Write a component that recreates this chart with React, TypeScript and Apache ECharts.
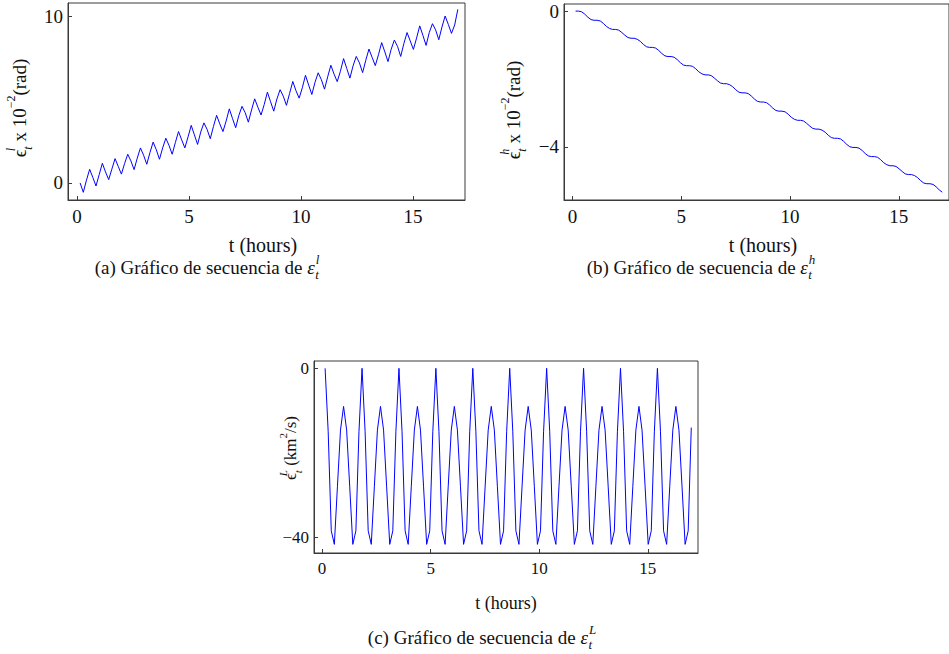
import React, { useEffect, useRef } from 'react';
import * as echarts from 'echarts';

// sampling: 120 samples, one every 17/120 h
const SAMPLE_COUNT = 120;
const SAMPLE_STEP_HOURS = 17 / 120;
const timeHours: number[] = Array.from({ length: SAMPLE_COUNT }, (_, k) => (k + 1) * SAMPLE_STEP_HOURS);

// (a) epsilon^l x 1e-2 (rad)
const seriesA: number[] = [
  0.0, -0.56, 0.17, 0.82, 0.33, -0.18, 0.50, 1.18, 0.66, 0.20, 0.83, 1.46,
  0.99, 0.53, 1.16, 1.72, 1.32, 0.80, 1.49, 2.10, 1.66, 1.12, 1.82, 2.45,
  1.99, 1.42, 2.10, 2.68, 2.25, 1.72, 2.42, 3.08, 2.58, 2.10, 2.76, 3.45,
  2.88, 2.31, 3.05, 3.60, 3.21, 2.65, 3.38, 4.05, 3.54, 3.08, 3.71, 4.44,
  3.87, 3.31, 4.04, 4.59, 4.21, 3.64, 4.37, 5.04, 4.54, 4.07, 4.70, 5.44,
  4.87, 4.30, 5.03, 5.59, 5.20, 4.65, 5.37, 6.08, 5.53, 5.08, 5.70, 6.45,
  5.86, 5.30, 6.03, 6.60, 6.19, 5.62, 6.36, 7.05, 6.52, 6.07, 6.69, 7.45,
  6.86, 6.28, 7.02, 7.58, 7.19, 6.61, 7.35, 8.02, 7.52, 7.03, 7.68, 8.41,
  7.85, 7.27, 8.01, 8.56, 8.18, 7.58, 8.35, 9.01, 8.51, 8.00, 8.68, 9.41,
  8.84, 8.24, 9.01, 9.54, 9.17, 8.58, 9.34, 10.00, 9.50, 8.96, 9.46, 10.40,
];

// (b) epsilon^h x 1e-2 (rad)
const seriesB: number[] = [
  0.00, 0.00, -0.02, -0.09, -0.18, -0.25,
  -0.27, -0.27, -0.29, -0.36, -0.45, -0.51,
  -0.54, -0.54, -0.56, -0.63, -0.71, -0.78,
  -0.80, -0.80, -0.83, -0.89, -0.98, -1.05,
  -1.07, -1.07, -1.09, -1.16, -1.25, -1.32,
  -1.34, -1.34, -1.36, -1.43, -1.52, -1.59,
  -1.61, -1.61, -1.63, -1.70, -1.79, -1.85,
  -1.88, -1.88, -1.90, -1.97, -2.05, -2.12,
  -2.14, -2.14, -2.17, -2.23, -2.32, -2.39,
  -2.41, -2.41, -2.43, -2.50, -2.59, -2.66,
  -2.68, -2.68, -2.70, -2.77, -2.86, -2.93,
  -2.95, -2.95, -2.97, -3.04, -3.13, -3.19,
  -3.22, -3.22, -3.24, -3.31, -3.39, -3.46,
  -3.48, -3.48, -3.51, -3.57, -3.66, -3.73,
  -3.75, -3.75, -3.77, -3.84, -3.93, -4.00,
  -4.02, -4.02, -4.04, -4.11, -4.20, -4.27,
  -4.29, -4.29, -4.31, -4.38, -4.47, -4.53,
  -4.56, -4.56, -4.58, -4.65, -4.73, -4.80,
  -4.82, -4.82, -4.85, -4.91, -5.00, -5.07,
  -5.09, -5.09, -5.11, -5.18, -5.27, -5.34,
];

// (c) epsilon^L (km^2/s)
const seriesC: number[] = [
  0, -15, -38.4, -41.6, -28, -14.6, -9, -14.6, -28, -41.6, -38.4, -15,
  0, -15, -38.4, -41.6, -28, -14.6, -9, -14.6, -28, -41.6, -38.4, -15,
  0, -15, -38.4, -41.6, -28, -14.6, -9, -14.6, -28, -41.6, -38.4, -15,
  0, -15, -38.4, -41.6, -28, -14.6, -9, -14.6, -28, -41.6, -38.4, -15,
  0, -15, -38.4, -41.6, -28, -14.6, -9, -14.6, -28, -41.6, -38.4, -15,
  0, -15, -38.4, -41.6, -28, -14.6, -9, -14.6, -28, -41.6, -38.4, -15,
  0, -15, -38.4, -41.6, -28, -14.6, -9, -14.6, -28, -41.6, -38.4, -15,
  0, -15, -38.4, -41.6, -28, -14.6, -9, -14.6, -28, -41.6, -38.4, -15,
  0, -15, -38.4, -41.6, -28, -14.6, -9, -14.6, -28, -41.6, -38.4, -15,
  0, -15, -38.4, -41.6, -28, -14.6, -9, -14.6, -28, -41.6, -38.4, -14,
];

const xTickValues = [0, 5, 10, 15];
const yTickValuesA = [0, 10];
const yTickValuesB = [-4, 0];
const yTickValuesC = [-40, 0];

const xAxisTitle = 't (hours)';
const captionPrefix = 'Gráfico de secuencia de ';

const SERIF = '"Liberation Serif", "Times New Roman", serif';
const LINE_BLUE = '#0000ff';
const FRAME = '#3a3a3a';
const INK = '#111';

function fmtTick(v: number) {
  return v < 0 ? '\u2212' + Math.abs(v) : String(v);
}

function xAxisFor(gridIndex: number, min: number, max: number, fs: number) {
  return {
    type: 'value', gridIndex, min, max,
    axisLine: { show: true, onZero: false, lineStyle: { color: FRAME, width: 1 } },
    axisTick: { show: true, inside: true, length: 4, customValues: xTickValues, lineStyle: { color: FRAME } },
    axisLabel: { show: true, customValues: xTickValues, margin: 7, fontSize: fs, fontFamily: SERIF, color: INK, formatter: fmtTick },
    splitLine: { show: false },
  };
}

function yAxisFor(gridIndex: number, min: number, max: number, ticks: number[], fs: number) {
  return {
    type: 'value', gridIndex, min, max,
    axisLine: { show: true, onZero: false, lineStyle: { color: FRAME, width: 1 } },
    axisTick: { show: true, inside: true, length: 4, customValues: ticks, lineStyle: { color: FRAME } },
    axisLabel: { show: true, customValues: ticks, margin: 5, fontSize: fs, fontFamily: SERIF, color: INK, formatter: fmtTick },
    splitLine: { show: false },
  };
}

function lineSeries(idx: number, values: number[]) {
  return {
    type: 'line', xAxisIndex: idx, yAxisIndex: idx,
    data: timeHours.map((t, i) => [t, values[i]]),
    showSymbol: false, symbol: 'none',
    lineStyle: { color: LINE_BLUE, width: 1 },
    silent: true,
  };
}

function titleRich(fs: number) {
  const small = Math.round(fs * 0.62);
  const lh = Math.round(fs * 1.5);
  return {
    b: { fontSize: fs, fontFamily: SERIF, fill: INK, lineHeight: lh, verticalAlign: 'middle' },
    sup: { fontSize: small, fontFamily: SERIF, fontStyle: 'italic', fill: INK, verticalAlign: 'top', width: 0, lineHeight: lh },
    sub: { fontSize: small, fontFamily: SERIF, fontStyle: 'italic', fill: INK, verticalAlign: 'bottom', lineHeight: lh },
    sup2: { fontSize: small, fontFamily: SERIF, fill: INK, verticalAlign: 'top', lineHeight: lh },
  };
}

function yTitle(x: number, y: number, text: string, fs: number) {
  return {
    type: 'text', x, y, rotation: Math.PI / 2, silent: true,
    style: { text, rich: titleRich(fs), align: 'center', verticalAlign: 'middle', fill: INK, fontSize: fs, fontFamily: SERIF },
  };
}

function plainText(x: number, y: number, text: string, fs: number) {
  return {
    type: 'text', x, y, silent: true,
    style: { text, align: 'center', verticalAlign: 'middle', fill: INK, fontSize: fs, fontFamily: SERIF },
  };
}

let measureCtx: CanvasRenderingContext2D | null = null;
function textWidth(text: string, font: string) {
  if (!measureCtx) measureCtx = document.createElement('canvas').getContext('2d');
  if (!measureCtx) return text.length * 8;
  measureCtx.font = font;
  return measureCtx.measureText(text).width;
}

// caption: "(x) Gráfico de secuencia de ε" with stacked super/subscript
function caption(cx: number, cy: number, letter: string, sup: string, sub: string) {
  const fs = 19;
  const small = 13;
  const baseText = `(${letter}) ${captionPrefix}`;
  const baseW = textWidth(baseText, `${fs}px ${SERIF}`);
  const epsW = textWidth('ε', `italic ${fs}px ${SERIF}`);
  const scriptW = Math.max(textWidth(sup, `italic ${small}px ${SERIF}`), textWidth(sub, `italic ${small}px ${SERIF}`));
  const total = baseW + epsW + 1 + scriptW;
  const x0 = cx - total / 2;
  const common = { fill: INK, fontFamily: SERIF, verticalAlign: 'middle' };
  return [
    { type: 'text', x: x0, y: cy, silent: true, style: { ...common, text: baseText, fontSize: fs, align: 'left' } },
    { type: 'text', x: x0 + baseW, y: cy, silent: true, style: { ...common, text: 'ε', fontSize: fs, fontStyle: 'italic', align: 'left' } },
    { type: 'text', x: x0 + baseW + epsW + 1, y: cy - 8, silent: true, style: { ...common, text: sup, fontSize: small, fontStyle: 'italic', align: 'left' } },
    { type: 'text', x: x0 + baseW + epsW + 0.5, y: cy + 7.5, silent: true, style: { ...common, text: sub, fontSize: small, fontStyle: 'italic', align: 'left' } },
  ];
}

export default function App() {
  const ref = useRef<HTMLDivElement>(null);
  useEffect(() => {
    if (!ref.current) return;
    const chart = echarts.init(ref.current, undefined, { renderer: 'svg' });
    const gridStyle = { show: true, borderColor: FRAME, borderWidth: 1, backgroundColor: 'transparent', containLabel: false };
    chart.setOption({
      animation: false,
      backgroundColor: '#ffffff',
      grid: [
        { ...gridStyle, left: 68, top: 3, width: 397, height: 197 },
        { ...gridStyle, left: 564, top: 4, right: -8, height: 196 },
        { ...gridStyle, left: 314, top: 361, width: 384, height: 192 },
      ],
      xAxis: [
        xAxisFor(0, -0.4, 17.32, 19),
        xAxisFor(1, -0.39, 17.31, 19),
        xAxisFor(2, -0.37, 17.31, 17),
      ],
      yAxis: [
        yAxisFor(0, -1.02, 10.78, yTickValuesA, 19),
        yAxisFor(1, -5.57, 0.21, yTickValuesB, 19),
        yAxisFor(2, -43.64, 1.73, yTickValuesC, 17),
      ],
      series: [lineSeries(0, seriesA), lineSeries(1, seriesB), lineSeries(2, seriesC)],
      graphic: [
        yTitle(19, 108, '{b|ϵ}{sup|l}{sub|t}{b| x 10}{sup2|−2}{b|(rad)}', 19),
        yTitle(513, 110, '{b|ϵ}{sup|h}{sub|t}{b| x 10}{sup2|−2}{b|(rad)}', 19),
        yTitle(290, 448, '{b|ϵ}{sup|L}{sub|t}{b| (km}{sup2|2}{b|/s)}', 17),
        plainText(263, 245, xAxisTitle, 20),
        plainText(763, 245, xAxisTitle, 20),
        plainText(506, 603, xAxisTitle, 18),
        ...caption(207, 267, 'a', 'l', 't'),
        ...caption(701, 267, 'b', 'h', 't'),
        ...caption(482, 637, 'c', 'L', 't'),
      ],
    });
    return () => chart.dispose();
  }, []);
  return (
    <div
      ref={ref}
      style={{ position: 'fixed', left: 0, top: 0, width: 949, height: 654, background: '#fff' }}
    />
  );
}
